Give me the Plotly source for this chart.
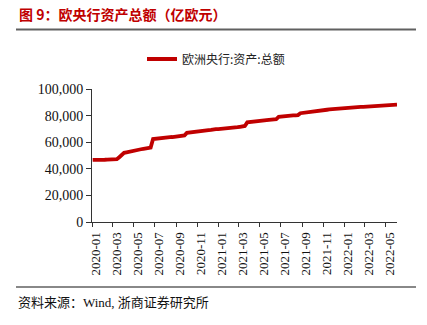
import pandas as pd
import plotly.graph_objects as go

# Weekly dates (Fridays) 2020-01-03 .. 2022-06-03
dates = pd.date_range("2020-01-03", "2022-06-03", freq="7D")

# ECB total assets, 亿欧元
v2020 = [46700, 46600, 46700, 46800, 46700,          # Jan
         46800, 46900, 46900, 47000,                 # Feb
         47100, 47200, 48700, 50600,                 # Mar
         52000, 52400, 52900, 53200,                 # Apr
         53600, 54000, 54300, 54700, 55000,          # May
         55300, 55600, 56000, 62400,                 # Jun
         62700, 62900, 63100, 63300, 63400,          # Jul
         63600, 63800, 63900, 64100,                 # Aug
         64300, 64500, 64800, 65100,                 # Sep
         67000, 67300, 67500, 67700, 67900,          # Oct
         68100, 68300, 68500, 68800,                 # Nov
         69000, 69200, 69700, 69800]                 # Dec
v2021 = [69800, 69900, 70100, 70300, 70500,          # Jan
         70700, 70900, 71100, 71300,                 # Feb
         71600, 71900, 72200, 74900,                 # Mar
         75200, 75400, 75600, 75800, 76000,          # Apr
         76200, 76400, 76600, 76800,                 # May
         77000, 77200, 77400, 79000,                 # Jun
         79300, 79500, 79600, 79800, 79900,          # Jul
         80100, 80200, 80400, 81800,                 # Aug
         82100, 82300, 82500, 82700,                 # Sep
         83200, 83400, 83600, 83800, 84000,          # Oct
         84200, 84400, 84600, 84800,                 # Nov
         85000, 85200, 85400, 85600, 85700]          # Dec
v2022 = [85800, 85900, 86000, 86100,                 # Jan
         86200, 86400, 86500, 86600,                 # Feb
         86700, 86800, 86900, 87100,                 # Mar
         87300, 87400, 87500, 87600, 87700,          # Apr
         87800, 87900, 88000, 88100,                 # May
         88200]                                      # Jun
values = v2020 + v2021 + v2022

tick_vals = pd.date_range("2020-01-01", "2022-05-01", freq="2MS")
tick_text = [d.strftime("%Y-%m") for d in tick_vals]
y_ticks = [0, 20000, 40000, 60000, 80000, 100000]

series_name = "欧洲央行:资产:总额"
title_text = "图 9：欧央行资产总额（亿欧元）"
source_text = "资料来源：Wind, 浙商证券研究所"

W, H = 427, 325
ML, MR, MT, MB = 92, 30, 89, 103
PW, PH = W - ML - MR, H - MT - MB

def px(x):
    return (x - ML) / PW

def py(y):
    return (H - MB - y) / PH

SERIF = "Liberation Serif, Times New Roman, serif"
CJK = "Noto Sans CJK SC, sans-serif"
RED = "#C00000"

fig = go.Figure()
fig.add_trace(go.Scatter(x=dates[:len(values)], y=values, mode="lines",
                         name=series_name,
                         line=dict(color=RED, width=3.8)))

fig.update_layout(
    width=W, height=H,
    margin=dict(l=ML, r=MR, t=MT, b=MB),
    paper_bgcolor="white", plot_bgcolor="white",
    showlegend=True,
    legend=dict(orientation="h", x=px(142), y=py(59), xanchor="left", yanchor="middle",
                font=dict(family=CJK, size=12, color="#222"),
                bgcolor="rgba(0,0,0,0)"),
    xaxis=dict(range=["2020-01-01", "2022-06-03"], tickvals=tick_vals, ticktext=tick_text,
               tickangle=-90, ticks="outside", ticklen=4, tickcolor="#333",
               showline=True, linecolor="#333", linewidth=1, showgrid=False,
               tickfont=dict(family=SERIF, size=13, color="#111"), ticklabelshift=4),
    yaxis=dict(range=[0, 100000], tickvals=y_ticks, tickformat=",",
               ticks="outside", ticklen=5, tickcolor="#333",
               showline=True, linecolor="#333", linewidth=1, showgrid=False,
               zeroline=False,
               tickfont=dict(family=SERIF, size=14, color="#111")),
    annotations=[
        dict(text="<b>" + title_text + "</b>", x=px(17), y=py(13.5), xref="paper", yref="paper",
             xanchor="left", yanchor="middle", showarrow=False,
             font=dict(family=CJK, size=14, color=RED)),
        dict(text=source_text, x=px(16), y=py(302), xref="paper", yref="paper",
             xanchor="left", yanchor="middle", showarrow=False,
             font=dict(family=SERIF + ", " + CJK, size=13, color="#111")),
    ],
    shapes=[
        dict(type="line", xref="paper", yref="paper", x0=px(16), x1=px(416),
             y0=py(29.5), y1=py(29.5), line=dict(color="#606060", width=2)),
        dict(type="line", xref="paper", yref="paper", x0=px(16), x1=px(416),
             y0=py(287), y1=py(287), line=dict(color="#606060", width=1.5)),
    ],
)

fig.write_html("out.html")
